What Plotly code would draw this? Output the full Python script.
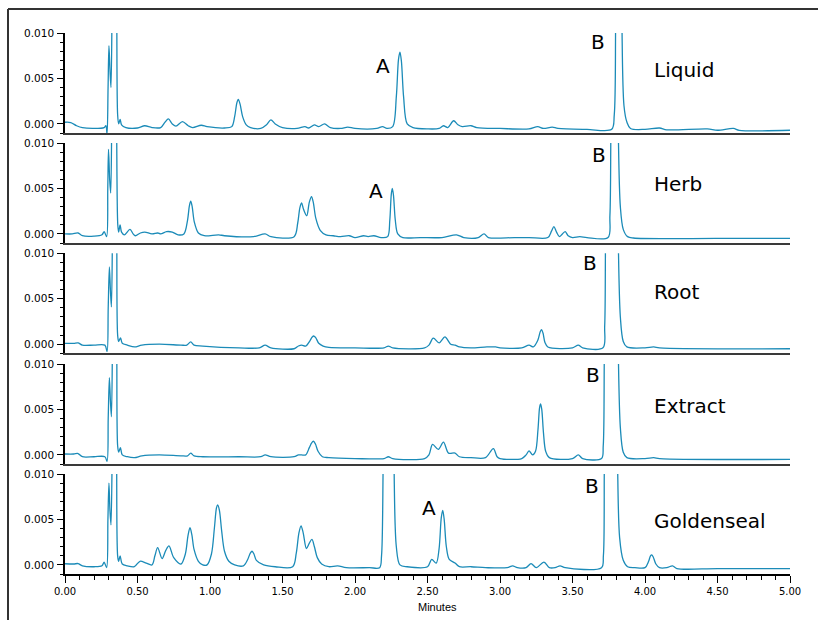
import plotly.graph_objects as go

# Chromatograms (absorbance, AU) vs retention time (min), one list of
# (time, signal) vertices per sample. Signals above 0.010 AU run off scale.
samples = ["Liquid", "Herb", "Root", "Extract", "Goldenseal"]

liquid = [
    (0.00, 0.00018), (0.04, 0.00015), (0.08, -0.0002), (0.12, -0.00042), (0.20, -0.0005),
    (0.27, -0.0004), (0.282, -0.0002), (0.29, -0.0011), (0.297, 0.004), (0.303, 0.0086),
    (0.31, 0.006), (0.317, 0.0040), (0.324, 0.012), (0.33, 0.03), (0.35, 0.03),
    (0.357, 0.012), (0.363, 0.001), (0.37, 0.0000), (0.38, 0.0005), (0.39, -0.0001),
    (0.42, -0.0004), (0.50, -0.00045), (0.55, -0.0002), (0.60, -0.0004), (0.66, -0.0004),
    (0.69, 0.0002), (0.713, 0.00055), (0.74, 0.0000), (0.765, -0.00025), (0.81, 0.00025),
    (0.85, -0.0002), (0.88, -0.0004), (0.94, -0.00015), (0.98, -0.0003), (1.10, -0.00045),
    (1.15, -0.0003), (1.17, 0.0008), (1.185, 0.0023), (1.195, 0.0027), (1.207, 0.0022),
    (1.225, 0.0008), (1.25, -0.0001), (1.28, -0.0004), (1.35, -0.0005), (1.39, -0.0001),
    (1.42, 0.00045), (1.45, 0.0000), (1.50, -0.0004), (1.60, -0.0005), (1.655, -0.0003),
    (1.68, -0.00045), (1.72, -0.0001), (1.75, -0.0003), (1.79, 0.0000), (1.83, -0.0004),
    (1.90, -0.0005), (1.95, -0.00035), (2.00, -0.0005), (2.15, -0.0005), (2.19, -0.0003),
    (2.22, -0.0005), (2.26, -0.0003), (2.285, 0.0030), (2.30, 0.0071), (2.31, 0.0079),
    (2.32, 0.0069), (2.335, 0.0030), (2.36, 0.0000), (2.40, -0.0004), (2.50, -0.00055),
    (2.58, -0.0005), (2.61, -0.0002), (2.64, -0.0004), (2.68, 0.00035), (2.71, -0.0001),
    (2.74, -0.0003), (2.80, -0.0002), (2.84, -0.0004), (3.00, -0.0005), (3.20, -0.00055),
    (3.26, -0.0003), (3.30, -0.0005), (3.36, -0.00035), (3.40, -0.0005), (3.60, -0.0006),
    (3.77, -0.0006), (3.788, 0.001), (3.798, 0.012), (3.815, 0.03), (3.825, 0.03),
    (3.84, 0.012), (3.855, 0.002), (3.875, 0.0002), (3.90, -0.0005), (4.00, -0.0006),
    (4.10, -0.00045), (4.15, -0.00065), (4.43, -0.00055), (4.50, -0.0007), (4.61, -0.0005),
    (4.65, -0.0007), (5.00, -0.0007),
]

herb = [
    (0.00, 0.0000), (0.05, 0.0000), (0.09, 0.0001), (0.12, -0.0002), (0.20, -0.00025),
    (0.255, -0.0001), (0.27, 0.00025), (0.287, -0.0003), (0.295, 0.005), (0.300, 0.0093),
    (0.308, 0.006), (0.315, 0.0045), (0.322, 0.012), (0.328, 0.03), (0.348, 0.03),
    (0.356, 0.012), (0.364, 0.001), (0.37, 0.0002), (0.38, 0.001), (0.39, 0.0002),
    (0.41, -0.0001), (0.448, 0.0005), (0.47, 0.0000), (0.485, -0.0002), (0.52, 0.0001),
    (0.55, 0.0002), (0.60, 0.0000), (0.64, 0.0001), (0.66, 0.0000), (0.70, 0.00025),
    (0.74, 0.0002), (0.78, -0.0001), (0.82, 0.0000), (0.845, 0.0015), (0.858, 0.0031),
    (0.867, 0.0036), (0.877, 0.0030), (0.892, 0.0013), (0.92, 0.0001), (0.96, -0.0002),
    (1.06, -0.0001), (1.10, -0.0002), (1.30, -0.0003), (1.38, 0.0000), (1.42, -0.0003),
    (1.58, -0.0003), (1.605, 0.0012), (1.62, 0.0029), (1.632, 0.0034), (1.645, 0.0027),
    (1.667, 0.0020), (1.685, 0.0035), (1.70, 0.0041), (1.712, 0.0035), (1.73, 0.0017),
    (1.76, 0.0004), (1.80, -0.0001), (1.85, -0.0002), (1.90, -0.0003), (1.96, -0.0002),
    (2.00, -0.0004), (2.06, -0.0002), (2.09, -0.0003), (2.13, -0.0002), (2.18, -0.0004),
    (2.225, -0.0003), (2.24, 0.0015), (2.25, 0.0043), (2.257, 0.0050), (2.265, 0.0043),
    (2.278, 0.0015), (2.295, 0.0000), (2.33, -0.0004), (2.45, -0.0004), (2.60, -0.0004),
    (2.70, -0.0001), (2.75, -0.0004), (2.85, -0.0004), (2.89, 0.0000), (2.92, -0.0004),
    (3.10, -0.0004), (3.20, -0.0004), (3.33, -0.0004), (3.355, 0.0003), (3.372, 0.0008),
    (3.39, 0.0002), (3.41, -0.0003), (3.43, 0.0000), (3.45, 0.00025), (3.47, -0.0002),
    (3.50, -0.0004), (3.55, -0.0003), (3.60, -0.0004), (3.745, -0.0004), (3.758, 0.002),
    (3.765, 0.012), (3.78, 0.03), (3.80, 0.03), (3.815, 0.012), (3.83, 0.003),
    (3.85, 0.0005), (3.88, -0.0003), (3.92, -0.00045), (4.50, -0.0005), (5.00, -0.0005),
]

root = [
    (0.00, 0.0001), (0.06, 0.0001), (0.09, 0.00015), (0.12, -0.0001), (0.20, -0.0001),
    (0.275, -0.0001), (0.29, -0.0008), (0.298, 0.004), (0.306, 0.0085), (0.313, 0.006),
    (0.32, 0.0041), (0.327, 0.012), (0.333, 0.03), (0.35, 0.03), (0.357, 0.012),
    (0.363, 0.001), (0.37, 0.0003), (0.383, 0.0007), (0.395, 0.0001), (0.43, -0.0001),
    (0.48, -0.0003), (0.53, -0.0001), (0.65, 0.0000), (0.80, -0.0001), (0.84, -0.0001),
    (0.867, 0.00025), (0.89, -0.0001), (0.95, -0.0002), (1.20, -0.0004), (1.34, -0.0004),
    (1.38, -0.0001), (1.42, -0.0004), (1.58, -0.0005), (1.61, -0.0002), (1.632, -0.0001),
    (1.66, -0.0002), (1.69, 0.0004), (1.705, 0.0008), (1.717, 0.0009), (1.73, 0.0007),
    (1.75, 0.0001), (1.78, -0.0002), (1.82, -0.00035), (2.00, -0.0004), (2.20, -0.0004),
    (2.23, -0.0002), (2.26, -0.0004), (2.48, -0.0004), (2.51, -0.0001), (2.54, 0.00066),
    (2.58, 0.00015), (2.62, 0.0008), (2.66, 0.0000), (2.69, -0.0001), (2.72, -0.0003),
    (2.80, -0.0004), (2.91, -0.0003), (2.97, -0.0003), (3.00, -0.0004), (3.15, -0.0004),
    (3.20, -0.0001), (3.23, -0.0003), (3.26, 0.0004), (3.278, 0.0014), (3.287, 0.0016),
    (3.297, 0.0012), (3.31, 0.0002), (3.33, -0.0003), (3.50, -0.0004), (3.54, -0.0001),
    (3.57, -0.0004), (3.71, -0.0004), (3.722, 0.002), (3.728, 0.012), (3.745, 0.03),
    (3.80, 0.03), (3.815, 0.012), (3.83, 0.003), (3.85, 0.0003), (3.875, -0.0003),
    (4.00, -0.0004), (4.06, -0.0003), (4.10, -0.0004), (5.00, -0.0005),
]

extract = [
    (0.00, 0.0001), (0.06, 0.0001), (0.09, 0.00015), (0.12, -0.0002), (0.20, -0.0002),
    (0.275, -0.0002), (0.29, -0.0007), (0.298, 0.004), (0.306, 0.0085), (0.313, 0.006),
    (0.32, 0.0042), (0.327, 0.012), (0.333, 0.03), (0.35, 0.03), (0.357, 0.012),
    (0.363, 0.001), (0.37, 0.0003), (0.382, 0.0008), (0.395, 0.0000), (0.43, -0.0002),
    (0.48, -0.0003), (0.53, -0.0001), (0.65, 0.0000), (0.80, -0.0001), (0.845, -0.0001),
    (0.867, 0.0002), (0.89, -0.0001), (0.95, -0.0002), (1.20, -0.0002), (1.35, -0.0002),
    (1.38, 0.0000), (1.42, -0.0002), (1.58, -0.0002), (1.61, 0.0000), (1.632, 0.0000),
    (1.66, 0.0000), (1.685, 0.0008), (1.70, 0.0013), (1.713, 0.0015), (1.727, 0.0012),
    (1.745, 0.0004), (1.775, -0.0002), (1.82, -0.0003), (2.00, -0.0004), (2.20, -0.0004),
    (2.23, -0.0002), (2.26, -0.0004), (2.48, -0.0004), (2.51, 0.0000), (2.535, 0.00115),
    (2.575, 0.0006), (2.61, 0.0014), (2.645, 0.0002), (2.69, 0.0002), (2.72, -0.0002),
    (2.80, -0.0003), (2.90, -0.0003), (2.954, 0.0007), (2.98, -0.0002), (3.00, -0.0004),
    (3.15, -0.0004), (3.18, 0.0000), (3.20, 0.00045), (3.225, 0.0000), (3.245, 0.0004),
    (3.262, 0.0028), (3.273, 0.0052), (3.28, 0.0056), (3.288, 0.0050), (3.30, 0.0024),
    (3.315, 0.0004), (3.34, -0.0003), (3.50, -0.0004), (3.54, 0.0000), (3.57, -0.0004),
    (3.70, -0.0004), (3.712, 0.001), (3.72, 0.012), (3.74, 0.03), (3.80, 0.03),
    (3.815, 0.012), (3.83, 0.003), (3.85, 0.0003), (3.875, -0.0003), (4.00, -0.0004),
    (4.06, -0.0003), (4.10, -0.0004), (5.00, -0.0005),
]

goldenseal = [
    (0.00, 0.00013), (0.06, 0.0001), (0.09, 0.00015), (0.12, -0.0001), (0.20, -0.0002),
    (0.255, -0.0001), (0.27, 0.0003), (0.287, -0.0003), (0.296, 0.005), (0.303, 0.009),
    (0.31, 0.006), (0.317, 0.0044), (0.325, 0.012), (0.331, 0.03), (0.35, 0.03),
    (0.356, 0.012), (0.363, 0.001), (0.37, 0.0004), (0.38, 0.001), (0.395, 0.0001),
    (0.43, -0.0001), (0.478, -0.0002), (0.517, 0.0004), (0.56, 0.0002), (0.60, 0.0000),
    (0.62, 0.0010), (0.639, 0.0019), (0.67, 0.0007), (0.695, 0.0016), (0.717, 0.0021),
    (0.75, 0.0008), (0.80, 0.0001), (0.83, 0.0012), (0.848, 0.0032), (0.862, 0.0041),
    (0.875, 0.0033), (0.89, 0.0017), (0.92, 0.0004), (0.95, 0.0000), (0.98, 0.0000),
    (1.01, 0.0012), (1.03, 0.0040), (1.045, 0.0063), (1.053, 0.0066), (1.065, 0.0060),
    (1.08, 0.0038), (1.10, 0.0015), (1.13, 0.0004), (1.17, 0.0000), (1.23, -0.0001),
    (1.26, 0.0006), (1.278, 0.0013), (1.29, 0.0015), (1.303, 0.0012), (1.32, 0.0005),
    (1.37, 0.0000), (1.45, -0.0002), (1.57, -0.0002), (1.595, 0.0013), (1.613, 0.0035),
    (1.628, 0.0043), (1.643, 0.0035), (1.665, 0.0018), (1.685, 0.0024), (1.703, 0.0028),
    (1.72, 0.0020), (1.74, 0.0008), (1.77, 0.0001), (1.82, -0.0002), (1.88, -0.0001),
    (1.94, -0.0003), (2.10, -0.0003), (2.17, -0.0003), (2.183, 0.001), (2.195, 0.012),
    (2.215, 0.03), (2.25, 0.03), (2.268, 0.012), (2.285, 0.002), (2.31, 0.0000),
    (2.36, -0.0002), (2.50, -0.0002), (2.529, 0.0006), (2.56, 0.0002), (2.58, 0.0018),
    (2.595, 0.0052), (2.605, 0.0060), (2.615, 0.0050), (2.63, 0.0020), (2.65, 0.0006),
    (2.69, 0.0002), (2.72, -0.0002), (2.80, -0.0002), (2.90, -0.0003), (3.05, -0.0003),
    (3.087, -0.0001), (3.12, -0.0003), (3.18, -0.0003), (3.214, 0.00015), (3.25, -0.0003),
    (3.303, 0.0003), (3.34, -0.0003), (3.38, -0.0003), (3.414, -0.0001), (3.45, -0.0003),
    (3.70, -0.0003), (3.713, 0.001), (3.72, 0.012), (3.74, 0.03), (3.795, 0.03),
    (3.81, 0.012), (3.825, 0.003), (3.85, 0.0005), (3.88, -0.0002), (3.93, -0.0003),
    (4.00, -0.0003), (4.025, 0.0004), (4.038, 0.0010), (4.046, 0.0011), (4.056, 0.0009),
    (4.075, 0.0001), (4.10, -0.0003), (4.15, -0.0003), (4.19, -0.0001), (4.22, -0.0004),
    (4.50, -0.0004), (5.00, -0.0004),
]

chromatograms = [liquid, herb, root, extract, goldenseal]

# Peak letters shown in each panel
peak_letters = {
    "Liquid": ["A", "B"],
    "Herb": ["A", "B"],
    "Root": ["B"],
    "Extract": ["B"],
    "Goldenseal": ["A", "B"],
}

# ---------------------------------------------------------------- layout
W, H = 818, 620
ML, MR, MT, MB = 65, 28, 33, 46
plot_w = W - ML - MR
plot_h = H - MT - MB
bottom_px = H - MB

# panel (top, bottom) in pixels
panel_px = [(33, 133), (143, 243), (253.3, 353.3), (364, 464), (474, 574)]

LINE = "#1b8bb8"
TEXT_FONT = "DejaVu Sans"

fig = go.Figure()
layout = dict(
    width=W, height=H,
    margin=dict(l=ML, r=MR, t=MT, b=MB, pad=0),
    paper_bgcolor="white", plot_bgcolor="white",
    showlegend=False,
    font=dict(family=TEXT_FONT, size=10, color="black"),
)

# letter placement (minutes, AU) per sample
letter_pos = {
    "Liquid": {"A": (2.19, 0.0064), "B": (3.676, 0.0090)},
    "Herb": {"A": (2.145, 0.0047), "B": (3.683, 0.0087)},
    "Root": {"B": (3.62, 0.0089)},
    "Extract": {"B": (3.639, 0.0088)},
    "Goldenseal": {"A": (2.51, 0.0063), "B": (3.632, 0.0087)},
}
name_y = [0.0059, 0.0055, 0.00575, 0.00535, 0.00485]

annotations = []
n = len(samples)
for i, (name, pts) in enumerate(zip(samples, chromatograms)):
    k = i + 1
    sfx = "" if k == 1 else str(k)
    xs = [p[0] for p in pts]
    ys = [p[1] for p in pts]
    fig.add_trace(go.Scatter(
        x=xs, y=ys, mode="lines",
        line=dict(color=LINE, width=1.3, shape="spline", smoothing=0.9),
        xaxis="x" + sfx, yaxis="y" + sfx, hoverinfo="skip",
    ))

    top, bot = panel_px[i]
    last = (k == n)
    layout["yaxis" + sfx] = dict(
        domain=[(bottom_px - bot) / plot_h, (bottom_px - top) / plot_h],
        anchor="x" + sfx,
        range=[-0.001, 0.010],
        tick0=0, dtick=0.005, tickformat=".3f",
        ticks="outside", ticklen=6, tickwidth=1, tickcolor="black",
        ticklabelstandoff=1,
        minor=dict(dtick=0.001, tick0=0, ticks="outside", ticklen=3.5,
                   tickwidth=1, tickcolor="black"),
        showline=True, linecolor="black", linewidth=1.5,
        showgrid=False, zeroline=False,
        tickfont=dict(family=TEXT_FONT, size=10.5, color="black"),
        fixedrange=True,
    )
    xa = dict(
        domain=[0, 1], anchor="y" + sfx, range=[0, 5],
        showgrid=False, zeroline=False, showline=True,
        fixedrange=True,
    )
    if k > 1:
        xa["matches"] = "x"
    if last:
        xa.update(
            linecolor="black", linewidth=1.5,
            tick0=0, dtick=0.5, tickformat=".2f",
            ticks="outside", ticklen=7, tickwidth=1, tickcolor="black",
            minor=dict(dtick=0.1, tick0=0, ticks="outside", ticklen=4,
                       tickwidth=1, tickcolor="black"),
            tickfont=dict(family=TEXT_FONT, size=10, color="black"),
            showticklabels=True,
        )
    else:
        xa.update(linecolor="#3a3a3a", linewidth=2, ticks="", showticklabels=False)
    layout["xaxis" + sfx] = xa

    for letter in peak_letters[name]:
        lx, ly = letter_pos[name][letter]
        annotations.append(dict(
            x=lx, y=ly, xref="x" + sfx, yref="y" + sfx, text=letter,
            showarrow=False, xanchor="center", yanchor="middle",
            font=dict(family=TEXT_FONT, size=20, color="black"),
        ))
    annotations.append(dict(
        x=4.05, y=name_y[i], xref="x" + sfx, yref="y" + sfx, text=name,
        showarrow=False, xanchor="left", yanchor="middle",
        font=dict(family=TEXT_FONT, size=20, color="black"),
    ))

# axis title under the bottom panel
annotations.append(dict(
    x=(437 - ML) / plot_w, y=(bottom_px - 607) / plot_h,
    xref="paper", yref="paper", text="Minutes", showarrow=False,
    xanchor="center", yanchor="middle",
    font=dict(family="Liberation Sans", size=11, color="black"),
))
layout["annotations"] = annotations

# outer frame (left and top edges)
fx0 = (8 - ML) / plot_w
fy0 = (bottom_px - 9) / plot_h
layout["shapes"] = [
    dict(type="line", xref="paper", yref="paper", x0=fx0, x1=fx0,
         y0=fy0, y1=(bottom_px - 640) / plot_h,
         line=dict(color="#333333", width=2)),
    dict(type="line", xref="paper", yref="paper", x0=fx0, x1=(840 - ML) / plot_w,
         y0=fy0, y1=fy0, line=dict(color="#333333", width=2)),
]

fig.update_layout(**layout)
fig.write_html("out.html")
